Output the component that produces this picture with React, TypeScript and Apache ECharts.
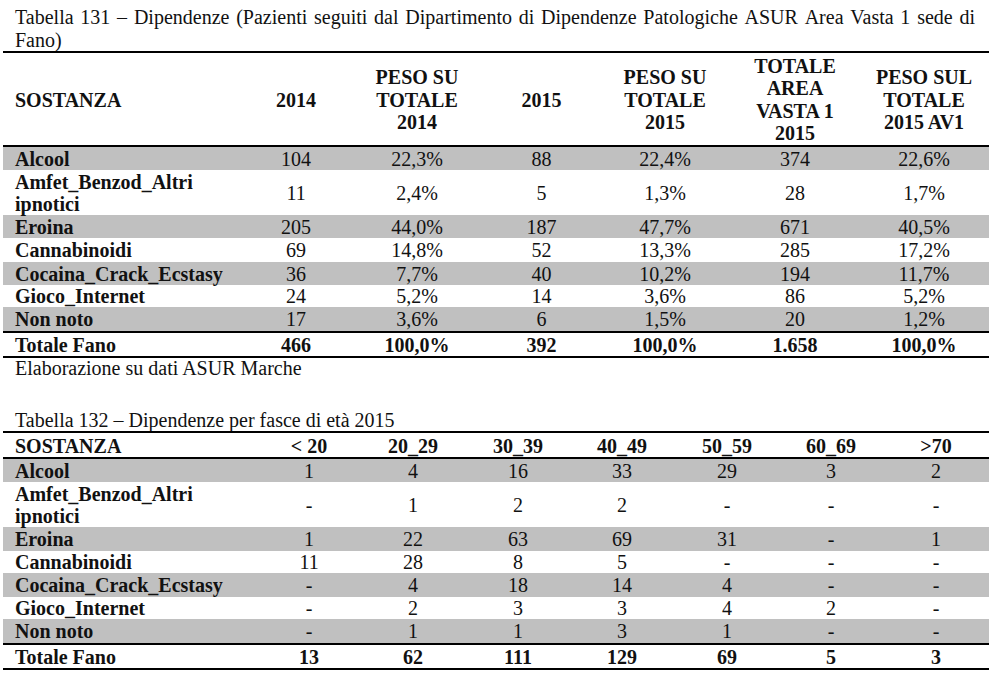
import React, { useEffect, useRef } from "react";
import * as echarts from "echarts";

// ---------- DATA ----------
const title1Line1 =
  "Tabella 131 – Dipendenze (Pazienti seguiti dal Dipartimento di Dipendenze Patologiche ASUR Area Vasta 1 sede di";
const title1Line2 = "Fano)";
const sourceNote = "Elaborazione su dati ASUR Marche";
const title2 = "Tabella 132 – Dipendenze per fasce di età 2015";

const substances: string[][] = [
  ["Alcool"],
  ["Amfet_Benzod_Altri", "ipnotici"],
  ["Eroina"],
  ["Cannabinoidi"],
  ["Cocaina_Crack_Ecstasy"],
  ["Gioco_Internet"],
  ["Non noto"],
];
const totalLabel = "Totale Fano";

const t1Headers: string[][] = [
  ["SOSTANZA"],
  ["2014"],
  ["PESO SU", "TOTALE", "2014"],
  ["2015"],
  ["PESO SU", "TOTALE", "2015"],
  ["TOTALE", "AREA", "VASTA 1", "2015"],
  ["PESO SUL", "TOTALE", "2015 AV1"],
];
const patients2014 = ["104", "11", "205", "69", "36", "24", "17"];
const share2014 = ["22,3%", "2,4%", "44,0%", "14,8%", "7,7%", "5,2%", "3,6%"];
const patients2015 = ["88", "5", "187", "52", "40", "14", "6"];
const share2015 = ["22,4%", "1,3%", "47,7%", "13,3%", "10,2%", "3,6%", "1,5%"];
const areaVasta2015 = ["374", "28", "671", "285", "194", "86", "20"];
const shareAV1 = ["22,6%", "1,7%", "40,5%", "17,2%", "11,7%", "5,2%", "1,2%"];
const t1Totals = ["466", "100,0%", "392", "100,0%", "1.658", "100,0%"];

const ageBands = ["< 20", "20_29", "30_39", "40_49", "50_59", "60_69", ">70"];
const ageAlcool = ["1", "4", "16", "33", "29", "3", "2"];
const ageAmfet = ["-", "1", "2", "2", "-", "-", "-"];
const ageEroina = ["1", "22", "63", "69", "31", "-", "1"];
const ageCannabinoidi = ["11", "28", "8", "5", "-", "-", "-"];
const ageCocaina = ["-", "4", "18", "14", "4", "-", "-"];
const ageGioco = ["-", "2", "3", "3", "4", "2", "-"];
const ageNonNoto = ["-", "1", "1", "3", "1", "-", "-"];
const ageTotals = ["13", "62", "111", "129", "69", "5", "3"];

// ---------- LAYOUT ----------
const FONT = "'Liberation Serif', 'Times New Roman', Times, serif";
const FS = 20;
const FS_BOLD = 20;
const INK = "#111";
const GRAY = "#c0c0c0";
const LEFT = 3;
const RIGHT = 989;
const LABEL_X = 15;

const t1ColX = [296, 417, 541.5, 665, 795, 924];
const t1RowBounds = [147, 170, 215, 238, 262, 285, 307, 331];
const t2ColX = [309, 413, 518, 622, 727, 831, 936];
const t2RowBounds = [459, 482, 527, 551, 573, 597, 619, 643];

function txt(
  text: string,
  x: number,
  y: number,
  opts: { bold?: boolean; align?: string; lineHeight?: number } = {}
) {
  return {
    type: "text",
    x,
    y,
    silent: true,
    style: {
      text,
      fontFamily: FONT,
      fontSize: opts.bold ? FS_BOLD : FS,
      fontWeight: opts.bold ? "bold" : "normal",
      fill: INK,
      align: opts.align || "center",
      verticalAlign: "middle",
      lineHeight: opts.lineHeight || 22.5,
    },
  };
}

function bar(y: number, h: number, fill: string) {
  return {
    type: "rect",
    silent: true,
    shape: { x: LEFT, y, width: RIGHT - LEFT, height: h },
    style: { fill },
  };
}

function justifiedLine(line: string, x0: number, x1: number, y: number) {
  const canvas = document.createElement("canvas");
  const ctx = canvas.getContext("2d")!;
  ctx.font = `${FS}px ${FONT}`;
  const words = line.split(" ");
  const widths = words.map((w) => ctx.measureText(w).width);
  const sum = widths.reduce((a, b) => a + b, 0);
  const gap = (x1 - x0 - sum) / (words.length - 1);
  const out: any[] = [];
  let x = x0;
  words.forEach((w, i) => {
    out.push(txt(w, x, y, { align: "left" }));
    x += widths[i] + gap;
  });
  return out;
}

function buildElements() {
  const els: any[] = [];

  // ---- Table 131 ----
  els.push(...justifiedLine(title1Line1, 15, 975, 16.5));
  els.push(txt(title1Line2, 15, 40, { align: "left" }));

  for (let i = 0; i < substances.length; i += 2) {
    els.push(bar(t1RowBounds[i], t1RowBounds[i + 1] - t1RowBounds[i], GRAY));
  }
  els.push(bar(51, 2, "#000"));
  els.push(bar(145, 2, "#000"));
  els.push(bar(331, 2, "#000"));
  els.push(bar(356, 2, "#000"));

  els.push(txt(t1Headers[0].join("\n"), LABEL_X, 99.5, { bold: true, align: "left" }));
  t1Headers.slice(1).forEach((h, c) => {
    els.push(txt(h.join("\n"), t1ColX[c], 99.5, { bold: true }));
  });

  const t1Cols = [patients2014, share2014, patients2015, share2015, areaVasta2015, shareAV1];
  substances.forEach((lab, r) => {
    const cy = (t1RowBounds[r] + (t1RowBounds[r + 1] ?? 331)) / 2;
    els.push(txt(lab.join("\n"), LABEL_X, cy, { bold: true, align: "left", lineHeight: 22 }));
    t1Cols.forEach((col, c) => els.push(txt(col[r], t1ColX[c], cy)));
  });
  els.push(txt(totalLabel, LABEL_X, 344.5, { bold: true, align: "left" }));
  t1Totals.forEach((v, c) => els.push(txt(v, t1ColX[c], 344.5, { bold: true })));

  els.push(txt(sourceNote, 15, 368, { align: "left" }));

  // ---- Table 132 ----
  els.push(txt(title2, 15, 420, { align: "left" }));
  for (let i = 0; i < substances.length; i += 2) {
    els.push(bar(t2RowBounds[i], t2RowBounds[i + 1] - t2RowBounds[i], GRAY));
  }
  els.push(bar(431, 2, "#000"));
  els.push(bar(457, 2, "#000"));
  els.push(bar(643, 2, "#000"));
  els.push(bar(668, 2, "#000"));

  els.push(txt("SOSTANZA", LABEL_X, 445.5, { bold: true, align: "left" }));
  ageBands.forEach((b, c) => els.push(txt(b, t2ColX[c], 445.5, { bold: true })));

  const ageRows = [ageAlcool, ageAmfet, ageEroina, ageCannabinoidi, ageCocaina, ageGioco, ageNonNoto];
  substances.forEach((lab, r) => {
    const cy = (t2RowBounds[r] + (t2RowBounds[r + 1] ?? 643)) / 2;
    els.push(txt(lab.join("\n"), LABEL_X, cy, { bold: true, align: "left", lineHeight: 22 }));
    ageRows[r].forEach((v, c) => els.push(txt(v, t2ColX[c], cy)));
  });
  els.push(txt(totalLabel, LABEL_X, 656.5, { bold: true, align: "left" }));
  ageTotals.forEach((v, c) => els.push(txt(v, t2ColX[c], 656.5, { bold: true })));

  return els;
}

export default function App() {
  const ref = useRef<HTMLDivElement>(null);
  useEffect(() => {
    if (!ref.current) return;
    const chart = echarts.init(ref.current, undefined, { renderer: "svg" });
    chart.setOption({
      animation: false,
      backgroundColor: "#fff",
      graphic: { elements: buildElements() },
    });
    return () => chart.dispose();
  }, []);
  return (
    <div
      ref={ref}
      style={{ position: "fixed", left: 0, top: 0, width: 1003, height: 673, background: "#fff" }}
    />
  );
}
